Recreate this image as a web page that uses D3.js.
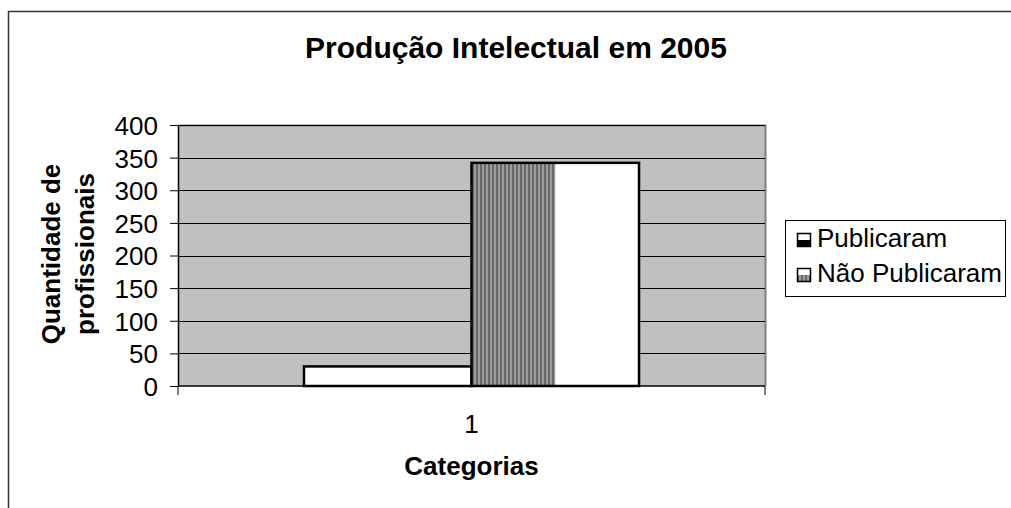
<!DOCTYPE html>
<html><head><meta charset="utf-8">
<script src="https://cdn.jsdelivr.net/npm/d3@7"></script>
<style>
html,body{margin:0;padding:0;background:#fff;}
svg{display:block;font-family:"Liberation Sans",Arial,sans-serif;}
</style></head>
<body>
<svg id="chart" width="1011" height="508"></svg>
<script>
const categories = ["1"];
const seriesNames = ["Publicaram", "Não Publicaram"];
const publicaram = [30];
const naoPublicaram = [342];
const yTicks = [0, 50, 100, 150, 200, 250, 300, 350, 400];
const titleText = "Produção Intelectual em 2005";
const xTitle = "Categorias";
const yTitleLines = ["Quantidade de", "profissionais"];

const svg = d3.select("#chart");
const defs = svg.append("defs");
const pat = defs.append("pattern").attr("id","stripes").attr("patternUnits","userSpaceOnUse")
  .attr("width",4).attr("height",4);
pat.append("rect").attr("width",4).attr("height",4).attr("fill","#9c9c9c");
pat.append("rect").attr("x",0).attr("width",2).attr("height",4).attr("fill","#686868");

// outer frame
svg.append("path").attr("d","M8.5,508 L8.5,11.5 L1011,11.5").attr("fill","none").attr("stroke","#333").attr("stroke-width",1.5);

const L=178, R=765, T=125, B=386;
const y = d3.scaleLinear().domain([0,400]).range([B,T]);
const x0 = d3.scaleBand().domain(categories).range([L,R]).paddingInner(0).paddingOuter(0.376);
const x1 = d3.scaleBand().domain(seriesNames).range([0,x0.bandwidth()]);

// plot area
svg.append("rect").attr("x",L).attr("y",T).attr("width",R-L).attr("height",B-T).attr("fill","#c0c0c0");
svg.append("path").attr("d",`M${L},${T+0.5} L${R+0.5},${T+0.5} L${R+0.5},${B}`).attr("fill","none").attr("stroke","#808080").attr("stroke-width",2);

// gridlines
svg.append("g").selectAll("line").data(yTicks.filter(d=>d>0)).join("line")
  .attr("x1",L).attr("x2",R).attr("y1",d=>Math.round(y(d))+0.5).attr("y2",d=>Math.round(y(d))+0.5)
  .attr("stroke","#000").attr("stroke-width",1);

// y axis
const yAxis = d3.axisLeft(y).tickValues(yTicks).tickSize(8).tickPadding(12).tickSizeOuter(0);
const gy = svg.append("g").attr("transform",`translate(${L},0)`).call(yAxis);
gy.select(".domain").attr("stroke","#000").attr("stroke-width",1.5);
gy.selectAll(".tick line").attr("stroke","#000").attr("stroke-width",1);
gy.selectAll(".tick text").attr("font-size",26).attr("fill","#000").attr("font-family","'Liberation Sans', Arial, sans-serif").attr("dy","0.36em");

// x axis
const gx = svg.append("g").attr("transform",`translate(0,${B})`);
gx.append("line").attr("x1",L).attr("x2",R).attr("y1",0).attr("y2",0).attr("stroke","#000").attr("stroke-width",1.5);
gx.selectAll(".edge").data([L,R]).join("line").attr("class","edge")
  .attr("x1",d=>d).attr("x2",d=>d).attr("y1",0).attr("y2",9).attr("stroke","#000").attr("stroke-width",1);
gx.selectAll(".lbl").data(categories).join("text").attr("class","lbl")
  .attr("x",d=>x0(d)+x0.bandwidth()/2).attr("y",47).attr("text-anchor","middle")
  .attr("font-size",26).text(d=>d);

// bars
const rows = categories.map((c,i)=>({cat:c, vals:[{s:seriesNames[0],v:publicaram[i]},{s:seriesNames[1],v:naoPublicaram[i]}]}));
const gb = svg.append("g");
rows.forEach(r=>{
  r.vals.forEach(d=>{
    const bx = x0(r.cat)+x1(d.s), bw = x1.bandwidth(), by = y(d.v), bh = y(0)-y(d.v);
    gb.append("rect").attr("x",bx).attr("y",by).attr("width",bw).attr("height",bh)
      .attr("fill","#fff");
    if(d.s===seriesNames[1]){
      gb.append("rect").attr("x",bx).attr("y",by).attr("width",bw/2).attr("height",bh).attr("fill","url(#stripes)");
    }
    gb.append("rect").attr("x",bx).attr("y",by).attr("width",bw).attr("height",bh)
      .attr("fill","none").attr("stroke","#000").attr("stroke-width",2.5);
  });
});

// title
svg.append("text").attr("x",516).attr("y",58).attr("text-anchor","middle")
  .attr("font-size",30).attr("font-weight","bold").text(titleText);
// x title
svg.append("text").attr("x",(L+R)/2).attr("y",475).attr("text-anchor","middle")
  .attr("font-size",26).attr("font-weight","bold").text(xTitle);
// y title
const yt = svg.append("text").attr("transform",`translate(60,254) rotate(-90)`).attr("text-anchor","middle")
  .attr("font-size",26).attr("font-weight","bold");
yTitleLines.forEach((t,i)=>yt.append("tspan").attr("x",0).attr("dy",i===0?0:"1.3em").text(t));

// legend
const lg = svg.append("g");
lg.append("rect").attr("x",785.5).attr("y",220.5).attr("width",220).attr("height",76)
  .attr("fill","#fff").attr("stroke","#000").attr("stroke-width",1);
const items = lg.selectAll("g").data(seriesNames).join("g")
  .attr("transform",(d,i)=>`translate(797,${233+i*35})`);
items.append("rect").attr("x",0.5).attr("y",0.5).attr("width",13).attr("height",13).attr("fill","#fff");
items.append("rect").attr("x",0.5).attr("y",7).attr("width",13).attr("height",6.5)
  .attr("fill",(d,i)=>i===0?"#000":"url(#stripes)");
items.append("rect").attr("x",0.5).attr("y",0.5).attr("width",13).attr("height",13)
  .attr("fill","none").attr("stroke","#000").attr("stroke-width",1.5);
items.append("text").attr("x",20).attr("y",14).attr("font-size",26).text(d=>d);
</script>
</body></html>
